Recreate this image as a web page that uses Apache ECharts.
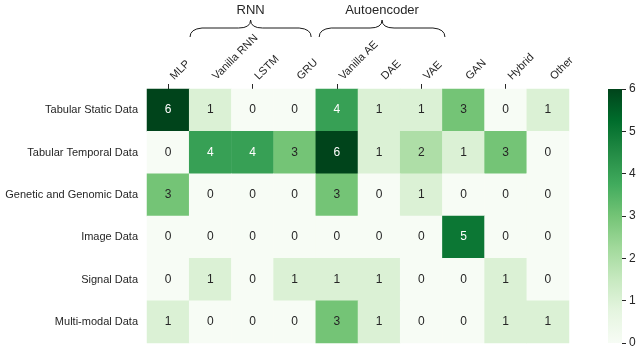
<!DOCTYPE html>
<html>
<head>
<meta charset="utf-8">
<script src="https://cdn.jsdelivr.net/npm/echarts@6/dist/echarts.min.js"></script>
<style>html,body{margin:0;padding:0;background:#fff}#c{width:640px;height:351px}</style>
</head>
<body>
<div id="c"></div>
<script>
const methods = ['MLP','Vanilla RNN','LSTM','GRU','Vanilla AE','DAE','VAE','GAN','Hybrid','Other'];
const dataTypes = ['Tabular Static Data','Tabular Temporal Data','Genetic and Genomic Data','Image Data','Signal Data','Multi-modal Data'];
const counts = [
  [6,1,0,0,4,1,1,3,0,1],
  [0,4,4,3,6,1,2,1,3,0],
  [3,0,0,0,3,0,1,0,0,0],
  [0,0,0,0,0,0,0,5,0,0],
  [0,1,0,1,1,1,0,0,1,0],
  [1,0,0,0,3,1,0,0,1,1]
];
const colorTicks = [0,1,2,3,4,5,6];
const groupNames = ['RNN','Autoencoder'];
const groupSpans = [[1.02,3.89],[4.08,7.06]]; // in category units

const greens = ['#f7fcf5','#e5f5e0','#c7e9c0','#a1d99b','#74c476','#41ab5d','#238b45','#006d2c','#00441b'];
const vmin = 0, vmax = 6;
const font = 'Liberation Sans, Arial, sans-serif';
const txt = '#262626';

const heat = [];
counts.forEach((row, r) => row.forEach((v, c) => {
  heat.push({value:[c, r, v], label:{color: v >= 4 ? '#ffffff' : txt}});
}));

const G = {left:147, top:89, width:422, height:254};
const CB = {left:608, top:89, width:14, height:254};

const chart = echarts.init(document.getElementById('c'), null, {renderer:'canvas'});
chart.setOption({
  animation:false,
  backgroundColor:'#fff',
  grid:[
    {left:G.left, top:G.top, width:G.width, height:G.height},
    {left:CB.left, top:CB.top, width:CB.width, height:CB.height}
  ],
  xAxis:[
    {type:'category', data:methods, position:'top', gridIndex:0,
     axisLine:{show:false}, splitLine:{show:false},
     axisTick:{show:true, alignWithLabel:true, length:5, lineStyle:{color:txt, width:1}},
     axisLabel:{show:false}},
    {type:'category', data:['cb'], gridIndex:1, show:false}
  ],
  yAxis:[
    {type:'category', data:dataTypes, inverse:true, gridIndex:0,
     axisLine:{show:false}, axisTick:{show:false}, splitLine:{show:false},
     axisLabel:{fontSize:11, color:txt, fontFamily:font, margin:9}},
    {type:'value', gridIndex:1, min:vmin, max:vmax, interval:1, position:'right',
     axisLine:{show:false}, splitLine:{show:false},
     axisTick:{show:true, length:4, lineStyle:{color:txt}},
     axisLabel:{fontSize:12, color:txt, fontFamily:font, margin:7}}
  ],
  visualMap:{show:false, min:vmin, max:vmax, seriesIndex:0, dimension:2, inRange:{color:greens}},
  series:[
    {type:'heatmap', xAxisIndex:0, yAxisIndex:0, data:heat,
     label:{show:true, fontSize:12, fontFamily:font},
     emphasis:{disabled:true}},
    {type:'bar', xAxisIndex:1, yAxisIndex:1, data:[vmax], barWidth:'100%',
     itemStyle:{color:new echarts.graphic.LinearGradient(0,1,0,0,
        greens.map((c,i)=>({offset:i/(greens.length-1), color:c})))},
     silent:true}
  ]
});

const graphics = [];
// rotated category labels on top (bounding box starts at the tick, like matplotlib ha='left')
const y0px = chart.convertToPixel({yAxisIndex:0}, 0);
const y1px = chart.convertToPixel({yAxisIndex:0}, 1);
const gridTop = y0px - (y1px - y0px)/2;
methods.forEach((m, i) => {
  const x = chart.convertToPixel({xAxisIndex:0}, i);
  graphics.push({type:'text', x:x+8, y:gridTop-7, rotation:Math.PI/4,
    style:{text:m, fontSize:11, fontFamily:font, fill:txt, textAlign:'left', textVerticalAlign:'bottom'}, silent:true});
});

// braces above grouped categories
const p0 = chart.convertToPixel({xAxisIndex:0}, 0);
const p1 = chart.convertToPixel({xAxisIndex:0}, 1);
const cw = p1 - p0;
const leftEdge = p0 - cw/2;
const bs = {fill:null, stroke:'#1a1a1a', lineWidth:1};
groupNames.forEach((name, i) => {
  const x0 = leftEdge + groupSpans[i][0]*cw;
  const x1 = leftEdge + groupSpans[i][1]*cw;
  const xm = (x0 + x1)/2;
  const yb = 37, yh = 28, yt = 20, r = 12;
  graphics.push({type:'bezierCurve', shape:{x1:x0, y1:yb, cpx1:x0, cpy1:yh+1, x2:x0+r, y2:yh}, style:bs, silent:true});
  graphics.push({type:'line', shape:{x1:x0+r, y1:yh, x2:xm-r, y2:yh}, style:bs, silent:true});
  graphics.push({type:'bezierCurve', shape:{x1:xm-r, y1:yh, cpx1:xm, cpy1:yh, x2:xm, y2:yt}, style:bs, silent:true});
  graphics.push({type:'bezierCurve', shape:{x1:xm, y1:yt, cpx1:xm, cpy1:yh, x2:xm+r, y2:yh}, style:bs, silent:true});
  graphics.push({type:'line', shape:{x1:xm+r, y1:yh, x2:x1-r, y2:yh}, style:bs, silent:true});
  graphics.push({type:'bezierCurve', shape:{x1:x1-r, y1:yh, cpx1:x1, cpy1:yh+1, x2:x1, y2:yb}, style:bs, silent:true});
  graphics.push({type:'text', x:xm, y:10, style:{text:name, fontSize:13, fontFamily:font, fill:txt, textAlign:'center', textVerticalAlign:'middle'}, silent:true});
});
chart.setOption({graphic:graphics});
</script>
</body>
</html>
